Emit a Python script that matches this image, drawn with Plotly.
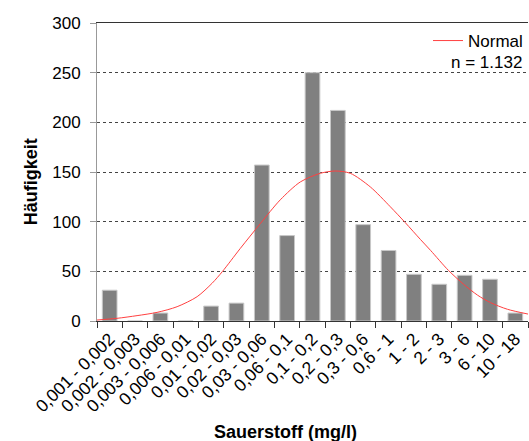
import plotly.graph_objects as go

categories = ["0,001 - 0,002", "0,002 - 0,003", "0,003 - 0,006", "0,006 - 0,01",
              "0,01 - 0,02", "0,02 - 0,03", "0,03 - 0,06", "0,06 - 0,1",
              "0,1 - 0,2", "0,2 - 0,3", "0,3 - 0,6", "0,6 - 1", "1 - 2",
              "2 - 3", "3 - 6", "6 - 10", "10 - 18"]
counts = [31, 0, 8, 0, 15, 18, 157, 86, 250, 212, 97, 71, 47, 37, 46, 42, 8]

# Normal curve (x in category-index units)
normal_x = [-0.5, 0.29, 1.08, 1.87, 2.66, 3.45, 4.04, 4.44, 5.15, 5.94, 6.73,
            7.52, 8.31, 8.90, 9.49, 10.28, 11.07, 11.66, 12.26, 12.66, 13.36,
            13.96, 14.51, 15.02, 15.69, 16.5]
normal_y = [1, 2.7, 5.4, 8.7, 14.4, 24.5, 38, 49.6, 73, 98, 122,
            140, 148.7, 151, 148.7, 135, 115, 99, 82, 71, 51,
            37, 26, 18.5, 11.8, 7]

y_ticks = [0, 50, 100, 150, 200, 250, 300]

FONT = "Liberation Sans, Arial, sans-serif"

fig = go.Figure()
fig.add_trace(go.Bar(
    x=categories, y=counts, marker=dict(color="#808080", line=dict(color="#c8c8c8", width=1)),
    showlegend=False, hoverinfo="x+y"))
fig.add_trace(go.Scatter(
    x=normal_x, y=normal_y, mode="lines", name="Normal", xaxis="x2",
    line=dict(color="#ff4040", width=1, shape="spline", smoothing=0.8)))

fig.update_layout(
    width=529, height=441,
    margin=dict(l=97, r=1, t=23, b=120),
    paper_bgcolor="white", plot_bgcolor="white",
    bargap=0.42,
    font=dict(family=FONT, size=17, color="black"),
    xaxis=dict(type="category", tickson="boundaries", ticks="outside", ticklen=6,
               tickcolor="#333333", tickangle=-45, showline=True, linecolor="#333333",
               linewidth=1, mirror=True, showgrid=False, range=[-0.5, 16.5],
               tickfont=dict(size=17.5)),
    xaxis2=dict(overlaying="x", range=[-0.5, 16.5], visible=False),
    yaxis=dict(range=[0, 300], tickvals=y_ticks, ticks="outside", ticklen=6,
               tickcolor="#999999", showline=True, linecolor="#999999", linewidth=1,
               showgrid=True, gridcolor="#444444", griddash="dot", gridwidth=1,
               zeroline=False, ticklabelstandoff=6, tickfont=dict(size=17)),
    legend=dict(x=1.0, xanchor="right", y=1.0, yanchor="top", bgcolor="rgba(0,0,0,0)",
                font=dict(size=17), borderwidth=0),
    annotations=[
        dict(text="n = 1.132", x=0.9907, y=0.866, xref="paper", yref="paper",
             xanchor="right", yanchor="middle", showarrow=False, font=dict(size=17)),
        dict(text="<b>Sauerstoff (mg/l)</b>", x=0.4385, y=-0.3725, xref="paper", yref="paper",
             xanchor="center", yanchor="middle", showarrow=False, font=dict(size=18)),
        dict(text="<b>Häufigkeit</b>", x=-0.153, y=0.466, xref="paper", yref="paper",
             xanchor="center", yanchor="middle", textangle=-90, showarrow=False,
             font=dict(size=18)),
    ],
)

fig.write_html("out.html")
